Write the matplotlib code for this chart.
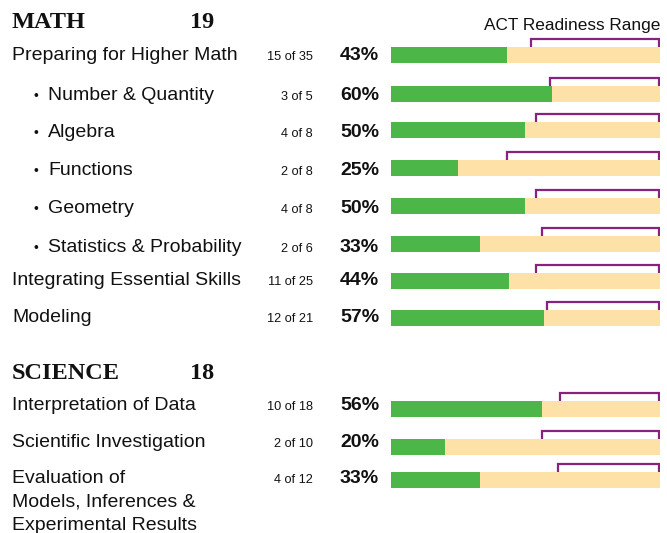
import matplotlib.pyplot as plt

# Math reporting categories
math_labels = ["Preparing for Higher Math", "Number & Quantity", "Algebra", "Functions",
               "Geometry", "Statistics & Probability", "Integrating Essential Skills", "Modeling"]
math_sub = [False, True, True, True, True, True, False, False]
math_correct = [15, 3, 4, 2, 4, 2, 11, 12]
math_total = [35, 5, 8, 8, 8, 6, 25, 21]
math_pct = [43, 60, 50, 25, 50, 33, 44, 57]
math_ready = [52, 59, 54, 43, 54, 56, 54, 58]

# Science reporting categories
sci_labels = ["Interpretation of Data", "Scientific Investigation",
              "Evaluation of\nModels, Inferences &\nExperimental Results"]
sci_correct = [10, 2, 4]
sci_total = [18, 10, 12]
sci_pct = [56, 20, 33]
sci_ready = [63, 56, 62]

math_score = 19
sci_score = 18

GREEN = "#4db648"
TAN = "#fde1a7"
PURPLE = "#87237f"
INK = "#111111"
SANS = "Liberation Sans"
SERIF = "Liberation Serif"

# layout, in figure pixels (y down)
math_bar_y = [55, 94, 130, 168, 206, 244, 281, 318]
math_text_y = [60, 100, 137, 175, 213, 252, 285, 322]
sci_bar_y = [409, 447, 480]
sci_text_y = [410, 447, 483]
line_step = 23.3

fig = plt.figure(figsize=(6.67, 5.33), dpi=100)
ax = fig.add_axes([0, 0, 1, 1])
ax.set_xlim(0, 667)
ax.set_ylim(533, 0)
ax.axis("off")

bx = fig.add_axes([391 / 667, 0, 269 / 667, 1])
bx.set_xlim(0, 100)
bx.set_ylim(533, 0)
bx.axis("off")

# headers
ax.text(12, 28, "MATH", family=SERIF, weight="bold", fontsize=17.5, color=INK)
ax.text(190, 28, str(math_score), family=SERIF, weight="bold", fontsize=17.5, color=INK)
ax.text(12, 379, "SCIENCE", family=SERIF, weight="bold", fontsize=17.5, color=INK)
ax.text(190, 379, str(sci_score), family=SERIF, weight="bold", fontsize=17.5, color=INK)
ax.text(660, 30, "ACT Readiness Range", family=SANS, fontsize=12.4, ha="right", color=INK)


def draw_rows(labels, subs, correct, total, pct, ready, bar_y, text_y):
    for i in range(len(labels)):
        ty = text_y[i]
        if subs[i]:
            ax.text(33, ty, "\u2022", family=SANS, fontsize=10, color=INK)
            ax.text(48, ty, labels[i], family=SANS, fontsize=14, color=INK)
        else:
            for k, line in enumerate(labels[i].split("\n")):
                ax.text(12, ty + k * line_step, line, family=SANS, fontsize=14, color=INK)
        ax.text(313, ty, f"{correct[i]} of {total[i]}", family=SANS, fontsize=9.2,
                ha="right", color=INK)
        ax.text(340, ty, f"{pct[i]}%", family=SANS, fontsize=14, weight="bold", color=INK)

        y = bar_y[i]
        bx.barh(y, 100, height=16, color=TAN, zorder=2)
        bx.barh(y, pct[i], height=16, color=GREEN, zorder=3)
        top = y - 8
        bx.plot([ready[i], ready[i], 99.5, 99.5], [top, top - 8, top - 8, top],
                color=PURPLE, lw=1.6, solid_joinstyle="miter", zorder=1)


draw_rows(math_labels, math_sub, math_correct, math_total, math_pct, math_ready,
          math_bar_y, math_text_y)
draw_rows(sci_labels, [False] * 3, sci_correct, sci_total, sci_pct, sci_ready,
          sci_bar_y, sci_text_y)

fig.savefig("out.png", dpi=100)
